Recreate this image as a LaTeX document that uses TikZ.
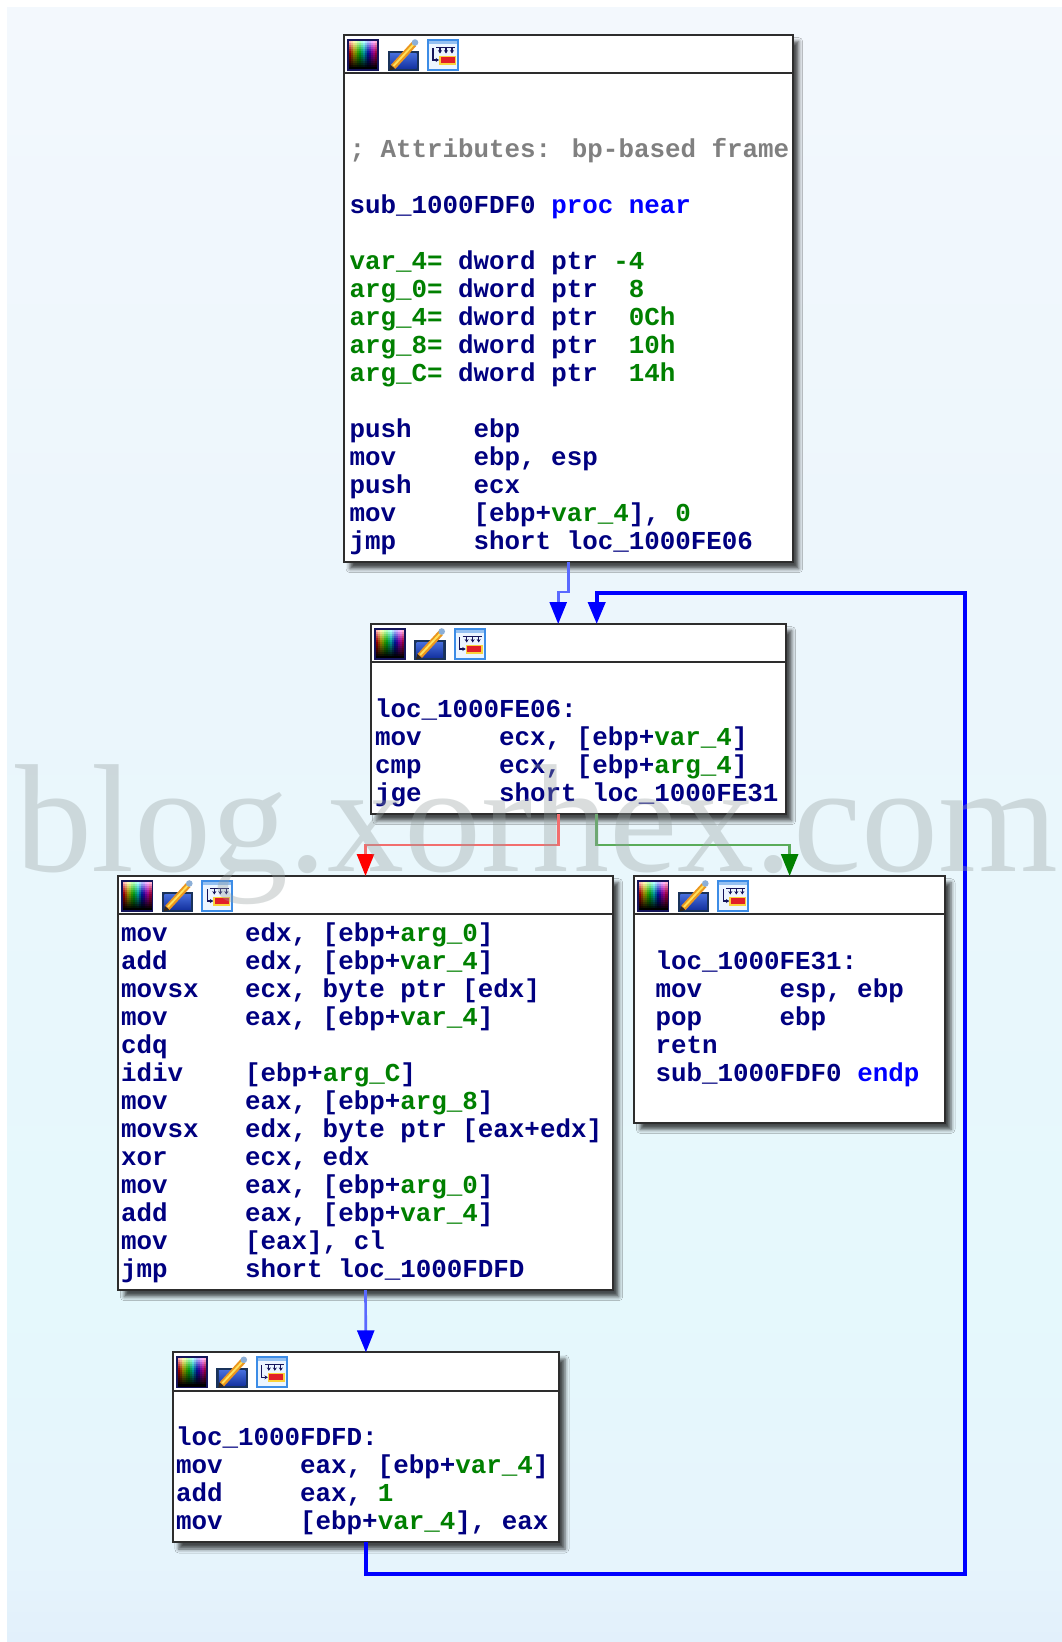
\documentclass[tikz,border=0pt]{standalone}
\usepackage{fontspec}
\usetikzlibrary{arrows.meta,calc,shadows.blur}
\newfontfamily\codefont{Liberation Mono}
\newfontfamily\wmfont{Liberation Serif}
\definecolor{navy}{RGB}{0,0,128}
\definecolor{idagreen}{RGB}{0,128,0}
\definecolor{idablue}{RGB}{0,0,255}
\definecolor{idagray}{RGB}{128,128,128}
\definecolor{boxline}{RGB}{45,45,45}
\definecolor{lblue}{RGB}{90,105,255}
\definecolor{lred}{RGB}{242,110,110}
\definecolor{lgreen}{RGB}{90,172,90}
\definecolor{hred}{RGB}{255,0,0}
\definecolor{hgreen}{RGB}{0,128,0}
\definecolor{icnavy}{RGB}{20,20,90}
\definecolor{icteal}{RGB}{25,50,90}
\definecolor{icorange}{RGB}{235,150,30}
\definecolor{icyellow}{RGB}{255,225,90}
\definecolor{icdark}{RGB}{50,40,30}
\definecolor{iccap}{RGB}{140,175,215}
\definecolor{icwin}{RGB}{60,140,230}
\definecolor{icwinbg}{RGB}{236,245,255}
\definecolor{icred}{RGB}{225,30,40}
\definecolor{icyel}{RGB}{250,210,60}
\definecolor{bgA}{RGB}{243,248,253}
\definecolor{bgB}{RGB}{236,246,252}
\definecolor{bgC}{RGB}{229,248,252}
\definecolor{bgD}{RGB}{230,244,252}
\definecolor{bgE}{RGB}{226,240,251}
\definecolor{wmgray}{RGB}{150,160,160}
\newlength\tabw
\setlength\tabw{93.12pt}
\newcommand\G[1]{\textcolor{idagreen}{#1}}
\newcommand\B[1]{\textcolor{idablue}{#1}}
\newcommand\I[2]{\makebox[\tabw][l]{#1}#2}
\newcommand\codeln[4]{\node[code] (#1) at (#2,#3) {#4};}
\newcommand\idaicons{%
  \fill[icnavy] (3,4) rectangle (35,36);
  \foreach \i in {0,...,13}{%
    \foreach \j in {0,...,13}{%
      \pgfmathsetmacro\hh{\i/14}%
      \pgfmathsetmacro\ss{min(1,0.3+\j/8)}%
      \pgfmathsetmacro\vv{max(0,1-\j/13)}%
      \definecolor{icc}{hsb}{\hh,\ss,\vv}%
      \fill[icc] ({5+2*\i},{6+2*\j}) rectangle ({7.3+2*\i},{8.3+2*\j});
    }}
  \fill[icteal] (43.5,15.5) rectangle (75,36);
  \shade[top color={rgb,255:red,70;green,110;blue,220}, bottom color={rgb,255:red,20;green,50;blue,160}] (46,18) rectangle (72.5,33.5);
  \draw[line width=4.5pt, draw=icorange] (49,32) -- (70,9);
  \draw[line width=1.4pt, draw=icyellow] (49.5,31) -- (69.5,9.5);
  \fill[icdark] (45.5,35.5) -- (46.5,30) -- (51,34) -- cycle;
  \fill[iccap] (71,7.5) circle[radius=3.3];
  \fill[icwin] (83,4) rectangle (115,36);
  \fill[icwinbg] (85,6) rectangle (113,34);
  \fill[icwin!55] (85,6) rectangle (113,9);
  \draw[icnavy, line width=0.9pt] (92,12.5) -- (111,12.5);
  \foreach \a in {96,102,108}{\draw[icnavy, line width=0.9pt, -{Stealth[length=2.5pt,width=3pt]}] (\a,12.5) -- (\a,18.5);}
  \draw[icnavy, line width=0.9pt, -{Stealth[length=2.5pt,width=3pt]}] (89,13) -- (89,25) -- (95,25);
  \fill[icyel] (95,20.5) rectangle (112,29.5);
  \fill[icred] (96.5,22) rectangle (110.5,28);
}
\tikzset{
  box/.style={draw=boxline, line width=1.5pt, fill=white, rectangle, inner sep=0pt, outer sep=0pt,
    blur shadow={shadow xshift=4.5pt, shadow yshift=-5pt, shadow blur radius=3pt, shadow opacity=70}},
  hdr/.style={draw=boxline, line width=1.5pt},
  code/.style={anchor=base west, inner sep=0pt, outer sep=0pt, text=navy,
    font=\codefont\bfseries\fontsize{19.4pt}{21pt}\selectfont},
  edgeblue/.style={draw=lblue, line width=2pt, -{Triangle[length=16.5pt,width=12.75pt,color=idablue]}},
  edgeloop/.style={draw=idablue, line width=3pt, -{Triangle[length=16.5pt,width=12.75pt]}},
  edgered/.style={draw=lred, line width=2pt, -{Triangle[length=16.5pt,width=12.75pt,color=hred]}},
  edgegreen/.style={draw=lgreen, line width=2pt, -{Triangle[length=16.5pt,width=12.75pt,color=hgreen]}},
  wm/.style={anchor=base west, inner sep=0pt, outer sep=0pt, text=wmgray, text opacity=0.35,
    font=\wmfont\fontsize{115.5pt}{120pt}\selectfont},
}
\begin{document}
\begin{tikzpicture}[x=0.75pt, y=-0.75pt]
\useasboundingbox (0,0) rectangle (1062,1642);
\fill[white] (0,0) rectangle (1062,1642);
% background
\shade[top color=bgA, bottom color=bgB] (7,7) rectangle (1062,601);
\shade[top color=bgB, bottom color=bgC] (7,600) rectangle (1062,1301);
\shade[top color=bgC, bottom color=bgD] (7,1300) rectangle (1062,1561);
\shade[top color=bgD, bottom color=bgE] (7,1560) rectangle (1062,1642);
% boxes
\node[box, minimum width=336.53pt, minimum height=395.25pt] (b1) at (568.35,298.5) {};
\node[box, minimum width=311.25pt, minimum height=142.5pt] (b2) at (578.2,719) {};
\node[box, minimum width=370.8pt, minimum height=310.5pt] (b3) at (365.5,1083) {};
\node[box, minimum width=233.03pt, minimum height=185.03pt] (b4) at (789.65,999.35) {};
\node[box, minimum width=289.65pt, minimum height=142.5pt] (b5) at (365.9,1447.3) {};
% headers and icons
\foreach \b in {b1,b2,b3,b4,b5}{
  \draw[hdr] ($(\b.north west)+(0,38.3)$) -- ($(\b.north east)+(0,38.3)$);
  \begin{scope}[shift={(\b.north west)}]\idaicons\end{scope}
}
% connectors
\coordinate (loopR) at (965.4,592.7);
\draw[edgeblue] (b1.south) -- ++(0,30) -| ($(b2.north)+(-20,0)$);
\draw[edgeloop] (b5.south) -- ++(0,32) -| (loopR) -| ($(b2.north)+(18.5,0)$);
\draw[edgered] ($(b2.south)+(-20,0)$) -- ++(0,31) -| (b3.north);
\draw[edgegreen] ($(b2.south)+(18.5,0)$) -- ++(0,31) -| (b4.north);
\draw[edgeblue] (b3.south) -- (b5.north);
% box 1 text
\codeln{t1a}{349.5}{157.4}{\textcolor{idagray}{; Attributes: bp-based frame}}
\codeln{t1b}{349.5}{213.4}{sub\_1000FDF0 \B{proc near}}
\codeln{t1c}{349.5}{269.4}{\G{var\_4=} dword ptr \G{-4}}
\codeln{t1d}{349.5}{297.4}{\G{arg\_0=} dword ptr\ \ \G{8}}
\codeln{t1e}{349.5}{325.4}{\G{arg\_4=} dword ptr\ \ \G{0Ch}}
\codeln{t1f}{349.5}{353.4}{\G{arg\_8=} dword ptr\ \ \G{10h}}
\codeln{t1g}{349.5}{381.4}{\G{arg\_C=} dword ptr\ \ \G{14h}}
\codeln{t1h}{349.5}{437.4}{\I{push}{ebp}}
\codeln{t1i}{349.5}{465.4}{\I{mov}{ebp, esp}}
\codeln{t1j}{349.5}{493.4}{\I{push}{ecx}}
\codeln{t1k}{349.5}{521.4}{\I{mov}{[ebp+\G{var\_4}], \G{0}}}
\codeln{t1l}{349.5}{549.4}{\I{jmp}{short loc\_1000FE06}}
% box 2 text
\codeln{t2a}{375}{717.3}{loc\_1000FE06:}
\codeln{t2b}{375}{745.3}{\I{mov}{ecx, [ebp+\G{var\_4}]}}
\codeln{t2c}{375}{773.3}{\I{cmp}{ecx, [ebp+\G{arg\_4}]}}
\codeln{t2d}{375}{801.3}{\I{jge}{short loc\_1000FE31}}
% box 3 text
\codeln{t3a}{121}{941.7}{\I{mov}{edx, [ebp+\G{arg\_0}]}}
\codeln{t3b}{121}{969.7}{\I{add}{edx, [ebp+\G{var\_4}]}}
\codeln{t3c}{121}{997.7}{\I{movsx}{ecx, byte ptr [edx]}}
\codeln{t3d}{121}{1025.7}{\I{mov}{eax, [ebp+\G{var\_4}]}}
\codeln{t3e}{121}{1053.7}{cdq}
\codeln{t3f}{121}{1081.7}{\I{idiv}{[ebp+\G{arg\_C}]}}
\codeln{t3g}{121}{1109.7}{\I{mov}{eax, [ebp+\G{arg\_8}]}}
\codeln{t3h}{121}{1137.7}{\I{movsx}{edx, byte ptr [eax+edx]}}
\codeln{t3i}{121}{1165.7}{\I{xor}{ecx, edx}}
\codeln{t3j}{121}{1193.7}{\I{mov}{eax, [ebp+\G{arg\_0}]}}
\codeln{t3k}{121}{1221.7}{\I{add}{eax, [ebp+\G{var\_4}]}}
\codeln{t3l}{121}{1249.7}{\I{mov}{[eax], cl}}
\codeln{t3m}{121}{1277.7}{\I{jmp}{short loc\_1000FDFD}}
% box 4 text
\codeln{t4a}{655.5}{969.3}{loc\_1000FE31:}
\codeln{t4b}{655.5}{997.3}{\I{mov}{esp, ebp}}
\codeln{t4c}{655.5}{1025.3}{\I{pop}{ebp}}
\codeln{t4d}{655.5}{1053.3}{retn}
\codeln{t4e}{655.5}{1081.3}{sub\_1000FDF0 \B{endp}}
% box 5 text
\codeln{t5a}{176}{1445}{loc\_1000FDFD:}
\codeln{t5b}{176}{1473}{\I{mov}{eax, [ebp+\G{var\_4}]}}
\codeln{t5c}{176}{1501}{\I{add}{eax, \G{1}}}
\codeln{t5d}{176}{1529}{\I{mov}{[ebp+\G{var\_4}], eax}}
% watermark
\node[wm] (wm) at (15,871.7) {blog.xorhex.com};
\end{tikzpicture}
\end{document}
